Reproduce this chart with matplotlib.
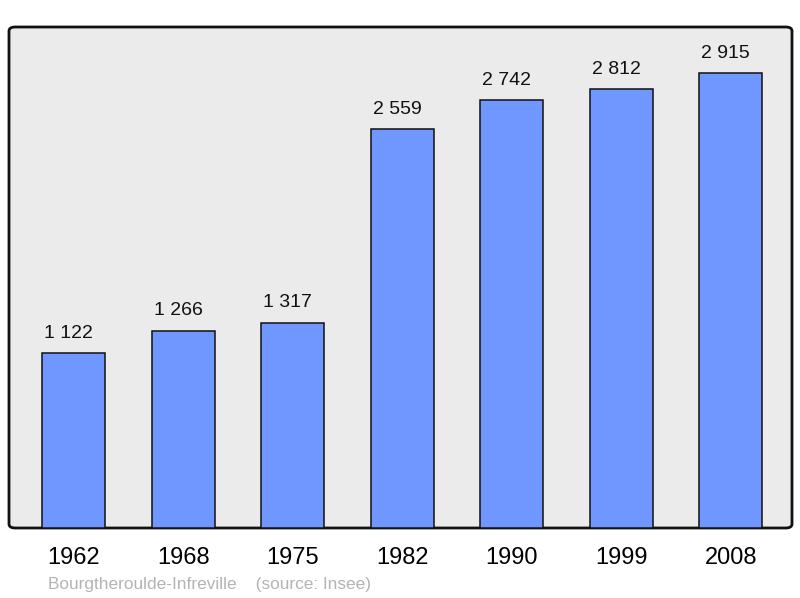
import numpy as np
import matplotlib.pyplot as plt
from matplotlib.patches import FancyBboxPatch

plt.rcParams['font.family'] = ['Liberation Sans', 'DejaVu Sans']

years = ['1962', '1968', '1975', '1982', '1990', '1999', '2008']
population = [1122, 1266, 1317, 2559, 2742, 2812, 2915]
value_labels = ['1 122', '1 266', '1 317', '2 559', '2 742', '2 812', '2 915']

fig = plt.figure(figsize=(8, 5.98), dpi=100)
ax = fig.add_axes([9/800, 1 - 528/598, (792-9)/800, (528-27)/598])
ax.set_facecolor('none')

# rounded frame behind the bars
frame = FancyBboxPatch((0, 0), 1, 1,
                       boxstyle='round,pad=0,rounding_size=0.008',
                       transform=ax.transAxes, facecolor='#ebebeb',
                       edgecolor='#111111', linewidth=2, zorder=0, clip_on=False)
ax.add_patch(frame)

x = np.arange(len(years))
ax.bar(x, population, width=0.575, color='#7096ff', edgecolor='#111111',
       linewidth=1.1, zorder=2)
for xi, v, lab in zip(x, population, value_labels):
    ax.annotate(lab, (xi, v), xytext=(-3.5, 8), textcoords='offset points',
                ha='center', va='bottom', fontsize=14, color='#111111')

ax.set_xlim(-0.59, 6.56)
ax.set_ylim(0, 3212)
for s in ax.spines.values():
    s.set_visible(False)
ax.set_yticks([])
ax.set_xticks(x)
ax.set_xticklabels(years, fontsize=17)
ax.tick_params(axis='x', length=0, pad=13.5)

fig.text(48/800, 1 - 584.5/598, 'Bourgtheroulde-Infreville    (source: Insee)',
         fontsize=12.4, color='#b4b4b4', va='center', ha='left')

fig.savefig('out.png', dpi=100)
